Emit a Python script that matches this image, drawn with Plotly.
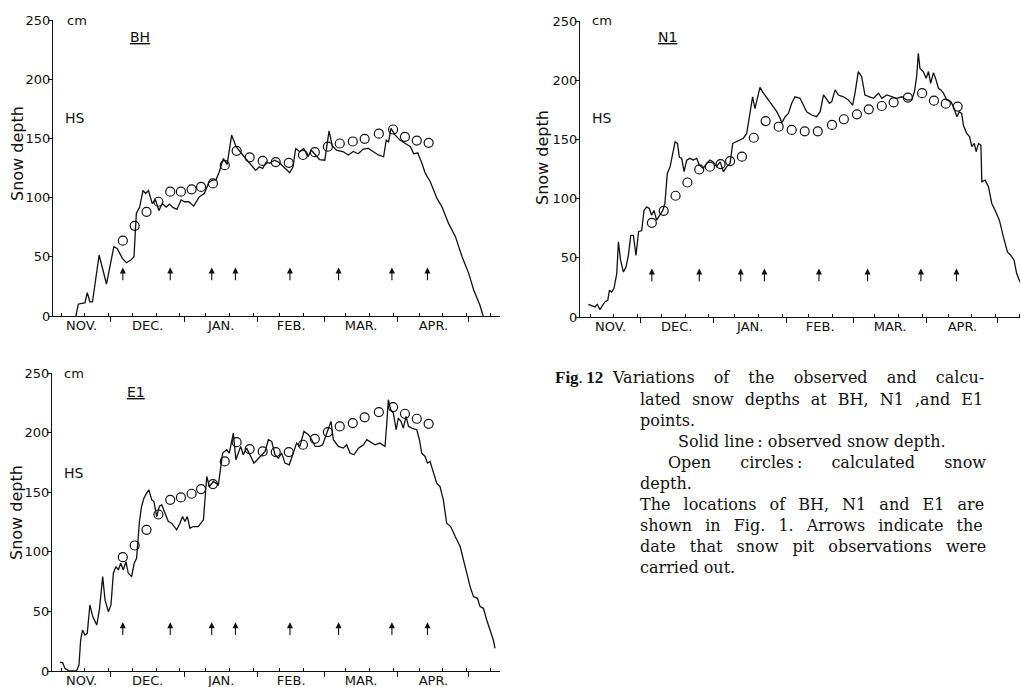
import plotly.graph_objects as go

W, H = 1021, 687

# ---- data (day = days since 1 November, depth in cm) ----
bh_observed = [
    (15.2, 0), (16.2, 10), (17.6, 10.7), (19, 11), (20, 19.7), (21.1, 12), (22.2, 12),
    (25, 51.5), (28.1, 27), (31.2, 58.5), (32.6, 57), (34.8, 48.7), (36.5, 45), (38.2, 47),
    (39.7, 50), (40.7, 86.6), (42.1, 92), (43.5, 106), (44.6, 103.5), (45.8, 106), (47.4, 95),
    (48.8, 98), (50.2, 89), (51.6, 95), (53.3, 92), (54.7, 94.5), (56.1, 91.7), (57.8, 90),
    (59.6, 98), (61, 96.5), (62.8, 96.5), (64.9, 92.8), (67.3, 100.7), (69.4, 103.5),
    (71.2, 112.5), (72.9, 114.8), (74.3, 115), (75.7, 121.8), (77.4, 133), (79, 128),
    (80.9, 152.7), (82.8, 143), (85.6, 136), (88.4, 129.7), (91, 123), (92.6, 126),
    (94, 124.6), (95.5, 130), (96.9, 129), (99, 131.6), (101, 129.7), (103.3, 125),
    (105.4, 121), (106.8, 126), (107.9, 141.5), (109.6, 138.7), (111.3, 141.5), (113.1, 134.5),
    (114.5, 140), (116.3, 136), (118, 132), (120.2, 131.6), (120.9, 143), (122, 156.4),
    (123.3, 144), (125.1, 140), (128, 138.7), (130.1, 136), (132.2, 139), (134.3, 137),
    (136.4, 141), (138.6, 141.5), (140.7, 138.7), (142.8, 136), (145, 134.5), (146.1, 148.5),
    (147.1, 147), (148.1, 158.4), (149.9, 152.7), (152, 148.5), (154.2, 145.7), (156.3, 143),
    (157.7, 137), (159.4, 137.8), (161.2, 128.8), (162.6, 120.4), (164.7, 113.4), (167.5, 99.3),
    (169.6, 92.3), (172.4, 78.2), (175.3, 67), (178.1, 50), (180.9, 36), (183, 22),
    (185.6, 9.3), (187, 0),
]

n1_observed = [
    (8.2, 10.7), (9.6, 9.9), (11, 8.5), (12, 10.7), (13.1, 6.2), (14.2, 9.9), (15.2, 12.7),
    (16.4, 14.1), (17.1, 22.6), (18, 21), (19, 24), (20.2, 36.7), (20.9, 63.5), (21.8, 48),
    (23, 38), (24.1, 42.3), (25.1, 52), (26.1, 69), (27.2, 69), (28.3, 52), (29.4, 72),
    (30.7, 73), (31.7, 90), (32.8, 93), (33.9, 91.6), (34.9, 86), (35.9, 90), (37, 81.8),
    (38.2, 86), (39.6, 90), (40.5, 95.9), (41.5, 121), (42.7, 127), (43.8, 138), (44.8, 148),
    (45.8, 146.6), (46.6, 135), (47.6, 134), (48.6, 122.7), (49.7, 132.5), (51.1, 134),
    (52.5, 132.5), (53.9, 134), (55, 128.3), (56.7, 125.5), (58.1, 129.7), (59.5, 132.5),
    (60.9, 131), (62.3, 127), (63.8, 131), (65.2, 122.7), (66.6, 127), (68, 129.7),
    (69.1, 146.6), (70.5, 148), (72.2, 149.5), (73.6, 151), (75, 155), (76.4, 172),
    (77.5, 186), (78.5, 176), (79.5, 184.7), (80.6, 194), (81.8, 190), (83.2, 186),
    (84.6, 183), (86.3, 177.7), (87.7, 173.4), (89.1, 167.8), (89.8, 164), (91.2, 169),
    (92.6, 172), (94, 180.5), (95.4, 186), (97.5, 184.7), (98.9, 179), (100.3, 173.4),
    (102.4, 170.6), (104.5, 169.2), (106, 173.4), (107.4, 187.5), (108.5, 184.7),
    (109.9, 180.5), (110.9, 181.9), (112.3, 191.8), (113.7, 187.5), (115.8, 186),
    (117.9, 183.3), (119.7, 179), (120.7, 189), (122.1, 207.3), (123.5, 203), (124.9, 187.5),
    (126.8, 186), (128.5, 184.7), (130.6, 189), (132, 184.7), (134.1, 187.5), (136.2, 186),
    (138.3, 184.7), (140.4, 186), (142.5, 183.3), (144.6, 183.3), (145.8, 190.4),
    (146.7, 203), (147.4, 222.8), (148.1, 210), (149.5, 207.3), (150.7, 201.6),
    (151.7, 207.3), (152.6, 197.4), (153.8, 206.4), (154.9, 200.2), (155.9, 193.2),
    (156.9, 191.8), (158, 189), (159.4, 183.3), (161.1, 181.9), (162.2, 177.7),
    (163.7, 169.2), (164.7, 173.4), (165.7, 172), (166.4, 162.2), (167.8, 155), (169, 152.3),
    (170, 143.8), (171, 146.6), (171.8, 139.6), (172.8, 146.6), (173.8, 145.2),
    (174.2, 114.2), (175.6, 115.6), (177, 110), (178.4, 95.9), (179.8, 90.2), (181.6, 81.8),
    (183.3, 67.7), (185, 55), (186.4, 52.2), (187.8, 48), (188.9, 36.7), (190.3, 29.6),
]

e1_observed = [
    (8.5, 7.3), (9.6, 7), (10.6, 2.2), (12, 0.3), (13.4, 0), (15.5, 0.3), (16.5, 5),
    (17.2, 26), (18, 34.4), (19, 30.2), (20, 31.6), (21.1, 55.4), (22.3, 45.6), (24, 38.6),
    (25.1, 51.2), (26.5, 79.2), (27.5, 59.6), (28.9, 49.8), (30, 55.4), (31, 82), (32.1, 87.6),
    (33.1, 84.8), (34.1, 90.4), (35.2, 84.8), (36.3, 91.8), (37.3, 82), (38.7, 79.2),
    (39.8, 90.4), (40.8, 94.6), (42, 125.4), (42.9, 138), (43.9, 145), (45, 149.2), (46, 152),
    (47.2, 143.6), (48.1, 142.2), (49.3, 129.6), (50.4, 138), (51.4, 139.4), (52.8, 132.4),
    (54.2, 125.4), (55.6, 124), (57.7, 118.4), (59.1, 124), (60.2, 129.6), (61.2, 125.4),
    (62.2, 129.6), (63.3, 119.8), (64.7, 121.2), (66.8, 121.2), (69, 126.8), (70.4, 163.2),
    (71.5, 154.8), (73.2, 159), (75.3, 156.2), (77.1, 182.8), (78.8, 185.6), (79.9, 182.8),
    (81.6, 199.6), (82.7, 177.2), (83.7, 182.8), (84.7, 188.4), (85.8, 181.4), (87.2, 187),
    (88.6, 181.4), (90.3, 174.4), (91.7, 177.2), (93.6, 181.4), (95, 184.2), (96.4, 194),
    (97.8, 192.6), (99.2, 181.4), (100.6, 178.6), (102, 182.8), (103.4, 174.4), (105.2, 173),
    (106.6, 181.4), (108.3, 191.2), (109.7, 188.4), (111.4, 201), (113.3, 198.2), (114.7, 194),
    (116.1, 188.4), (117.9, 188.4), (119.3, 189.8), (120.3, 195.4), (121.7, 202.4),
    (122.8, 209.4), (123.8, 194), (125.9, 188.4), (128, 187), (129.4, 189.8), (130.8, 182.8),
    (132.5, 181.4), (134.4, 187), (136.5, 189.8), (137.9, 194), (139.3, 192.6), (141.4, 189.8),
    (143.5, 191.2), (145.6, 188.4), (146.3, 206.6), (147, 227.6), (148, 219.2), (149.1, 216.4),
    (150.3, 202.4), (151.2, 212.2), (152.3, 209.4), (153.3, 203.8), (154.5, 213.6),
    (155.5, 205.2), (156.9, 203.8), (159, 202.4), (160.1, 194), (161.1, 182.8), (162.5, 180),
    (163.5, 174.4), (164.6, 175.8), (166, 167.4), (167.4, 157.6), (168.8, 154.8),
    (170.2, 143.6), (171.6, 124), (173.3, 121.2), (175.2, 112.8), (177.3, 104.4), (179.4, 87.6),
    (181.5, 70.8), (182.9, 62.4), (184.6, 61), (185.7, 54), (187.1, 52.6), (188.5, 42.8),
    (189.9, 34.4), (191.3, 26), (192, 19),
]

# calculated snow depth (open circles)
calc_day = [35, 40, 45, 50, 55, 59.5, 64, 68, 73, 78, 83, 88.5, 94, 99.5, 105, 111,
            116, 121.5, 126.5, 132, 137, 143, 149, 154, 159, 164]
bh_calc = [63.6, 76.2, 88, 96.5, 105, 105, 107, 109, 112, 127.4, 139.5, 134, 131, 130,
           129.4, 136, 138.4, 143, 145.7, 147.4, 149.6, 154, 157.5, 151.3, 148.2, 146.3]
n1_calc = [79.5, 89.7, 102.4, 113.6, 124.6, 126.9, 129.2, 131.7, 135.4, 151.4, 165.5,
           160.7, 158, 156.8, 156.8, 162.2, 167, 171.2, 175.4, 178.2, 181.3, 185.3, 189,
           182.7, 180.2, 177.7]
e1_calc = [95.5, 105.3, 118.4, 131.3, 143.6, 145.6, 148.7, 152.6, 156.8, 175.8, 192,
           186.2, 184.2, 183.7, 183.7, 189.8, 194.8, 200.4, 205.2, 208, 212.8, 217.2,
           221.4, 215.8, 211.6, 207.4]

# snow pit observation dates (arrows)
pit_day = [35, 55, 72.5, 82.5, 105.5, 126, 148.5, 163.5]

# time axis
month_start = [0, 30, 61, 92, 120, 151, 181]
dekad_day = [9, 19, 29, 39, 49, 59, 70, 80, 90, 101, 111, 129, 139, 149, 160, 170, 180, 190]
month_label_day = [17.6, 45.5, 76.5, 106, 135.5, 166]
month_label = ["NOV.", "DEC.", "JAN.", "FEB.", "MAR.", "APR."]
depth_ticks = [0, 50, 100, 150, 200, 250]

# ---- panel layout (pixel boxes: left, right, top, bottom) and x ranges ----
panels = [
    dict(name="BH", obs=bh_observed, calc=bh_calc, box=(53, 500, 20, 316), xr=(5.54, 194.1),
         ylab=(17, 154), cm=(65, 20), hs=(63, 118), tag=(140, 37)),
    dict(name="N1", obs=n1_observed, calc=n1_calc, box=(580, 1020, 21, 317), xr=(4.69, 190.3),
         ylab=(543, 158), cm=(590, 21), hs=(590, 118), tag=(667, 37)),
    dict(name="E1", obs=e1_observed, calc=e1_calc, box=(52, 500, 373, 671), xr=(5.12, 194.1),
         ylab=(16, 513), cm=(62, 373), hs=(62, 473), tag=(136, 392)),
]

INK = "#111111"
SANS = "DejaVu Sans"
SERIF = "DejaVu Serif"


def px(x):
    return x / W


def py(y):
    return 1 - y / H


fig = go.Figure()
annotations = []
layout = {}

for i, p in enumerate(panels):
    n = i + 1
    sfx = "" if n == 1 else str(n)
    xa, ya = "x" + sfx, "y" + sfx
    lab_n = n + 3
    xlab = "x" + str(lab_n)
    left, right, top, bottom = p["box"]

    days = [d for d, _ in p["obs"]]
    depth = [v for _, v in p["obs"]]
    fig.add_trace(go.Scatter(x=days, y=depth, mode="lines", xaxis=xa, yaxis=ya,
                             line=dict(color=INK, width=1.3), showlegend=False,
                             hoverinfo="skip"))
    fig.add_trace(go.Scatter(x=calc_day, y=p["calc"], mode="markers", xaxis=xa, yaxis=ya,
                             marker=dict(symbol="circle-open", size=9, color=INK,
                                         line=dict(width=1.2, color=INK)),
                             showlegend=False, hoverinfo="skip"))
    # empty trace carrying the month-name axis
    fig.add_trace(go.Scatter(x=[], y=[], xaxis=xlab, yaxis=ya, showlegend=False))

    layout["xaxis" + sfx] = dict(
        domain=[px(left), px(right)], range=list(p["xr"]), anchor=ya, automargin=False,
        showline=True, linecolor=INK, linewidth=1.2, showgrid=False, zeroline=False,
        tickmode="array", tickvals=month_start, ticktext=[""] * len(month_start),
        ticks="outside", ticklen=5, tickwidth=1, tickcolor=INK,
        minor=dict(tickmode="array", tickvals=dekad_day, ticks="inside", ticklen=3,
                   tickwidth=1, tickcolor=INK, showgrid=False),
        fixedrange=True,
    )
    layout["xaxis" + str(lab_n)] = dict(
        overlaying=xa, anchor=ya, range=list(p["xr"]), side="bottom", automargin=False,
        showline=False, showgrid=False, zeroline=False,
        tickmode="array", tickvals=month_label_day, ticktext=month_label, ticks="",
        tickfont=dict(family=SANS, size=13, color=INK), fixedrange=True,
    )
    layout["yaxis" + sfx] = dict(
        domain=[py(bottom), py(top)], range=[0, 250], anchor=xa, automargin=False,
        showline=True, linecolor=INK, linewidth=1.2, showgrid=False, zeroline=False,
        tickmode="array", tickvals=depth_ticks, ticks="outside", ticklen=4, tickwidth=1,
        tickcolor=INK, tickfont=dict(family=SANS, size=13, color=INK),
        ticklabelstandoff=-5, fixedrange=True,
    )

    # pit observation arrows
    for d in pit_day:
        annotations.append(dict(
            x=d, y=41, ax=d, ay=29, xref=xa, yref=ya, axref=xa, ayref=ya,
            text="", showarrow=True, arrowhead=2, arrowsize=1.1, arrowwidth=1.1,
            arrowcolor=INK, standoff=0, startstandoff=0,
        ))

    ylx, yly = p["ylab"]
    annotations.append(dict(x=px(ylx), y=py(yly), xref="paper", yref="paper",
                            text="Snow depth", textangle=-90, showarrow=False,
                            xanchor="center", yanchor="middle",
                            font=dict(family=SANS, size=16, color=INK)))
    cx, cy = p["cm"]
    annotations.append(dict(x=px(cx), y=py(cy), xref="paper", yref="paper", text="cm",
                            xanchor="left", yanchor="middle", showarrow=False,
                            font=dict(family=SANS, size=13, color=INK)))
    hx, hy = p["hs"]
    annotations.append(dict(x=px(hx), y=py(hy), xref="paper", yref="paper", text="HS",
                            xanchor="left", yanchor="middle", showarrow=False,
                            font=dict(family=SANS, size=14, color=INK)))
    tx, ty = p["tag"]
    annotations.append(dict(x=px(tx), y=py(ty), xref="paper", yref="paper",
                            text="<u>" + p["name"] + "</u>", showarrow=False,
                            xanchor="center", yanchor="middle",
                            font=dict(family=SANS, size=14, color=INK)))

# ---- figure caption ----
annotations.append(dict(x=px(553), y=py(378), xref="paper", yref="paper",
                        text="<b>Fig</b>.\u2009<b>12</b>", xanchor="left", yanchor="middle",
                        showarrow=False,
                        font=dict(family="Liberation Serif", size=17, color=INK)))

# (left x, centre y, text, extra word spacing)
caption = [
    (610, 378, "Variations of the observed and calcu-", 14),
    (638, 399, "lated snow depths at BH, N1 ,and E1", 6),
    (638, 420, "points.", 0),
    (676, 441, "Solid line\u2009: observed snow depth.", 0),
    (666, 462, "Open circles\u2009: calculated snow", 24),
    (638, 483, "depth.", 0),
    (638, 504, "The locations of BH, N1 and E1 are", 8),
    (638, 525, "shown in Fig. 1. Arrows indicate the", 8),
    (638, 546, "date that snow pit observations were", 9),
    (638, 567, "carried out.", 0),
]
for cx, cy, txt, ws in caption:
    if ws:
        txt = '<span style="word-spacing:%dpx">%s</span>' % (ws, txt)
    annotations.append(dict(x=px(cx), y=py(cy), xref="paper", yref="paper", text=txt,
                            xanchor="left", yanchor="middle", showarrow=False,
                            font=dict(family=SERIF, size=16, color=INK)))

fig.update_layout(
    template="none",
    width=W, height=H, margin=dict(l=0, r=0, t=0, b=0, autoexpand=False),
    paper_bgcolor="white", plot_bgcolor="white",
    annotations=annotations, showlegend=False, **layout,
)

fig.write_html("out.html")
